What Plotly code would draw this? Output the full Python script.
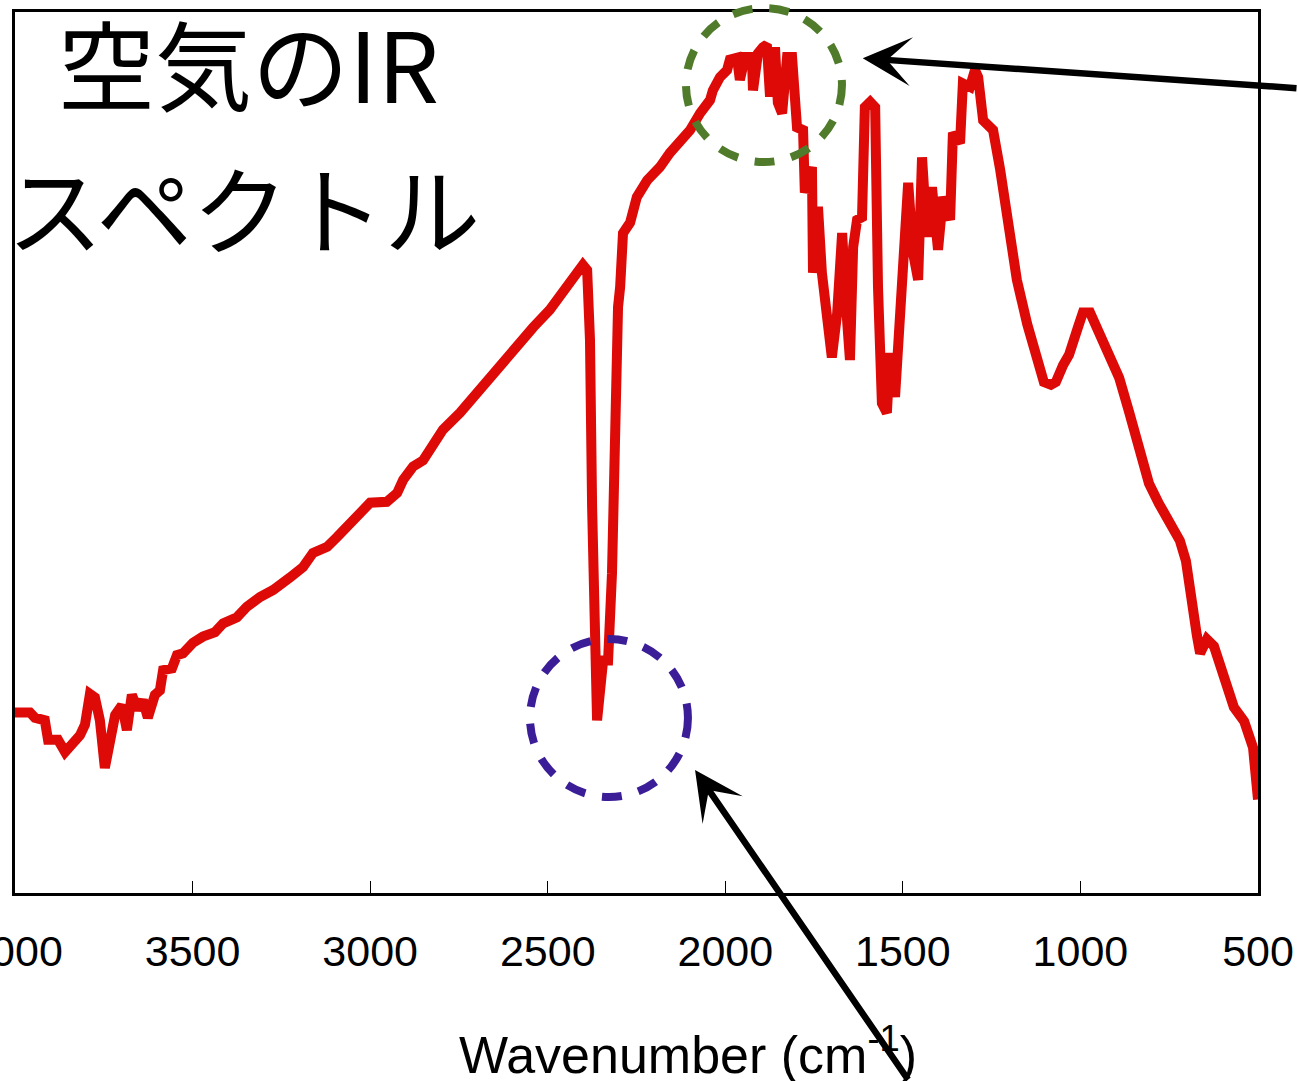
import plotly.graph_objects as go

# Wavenumber (cm-1) and transmittance-like signal (arbitrary %)
wavenumber = [
    4000, 3958, 3944, 3916, 3907, 3879, 3859, 3837, 3817, 3803, 3789, 3775, 3761, 3747, 3733,
    3718, 3699, 3685, 3671, 3654, 3640, 3626, 3606, 3592, 3583, 3558, 3544, 3527, 3499, 3471,
    3437, 3414, 3375, 3347, 3310, 3273, 3226, 3189, 3161, 3121, 3093, 3057, 3020, 3000, 2953,
    2924, 2907, 2879, 2851, 2823, 2795, 2747, 2710, 2671, 2634, 2586, 2541, 2494, 2446, 2401,
    2389, 2381, 2375, 2367, 2361, 2344, 2330, 2319, 2311, 2302, 2296, 2288, 2268, 2249, 2220,
    2184, 2156, 2128, 2099, 2071, 2043, 2035, 2015, 1995, 1987, 1967, 1959, 1944, 1925, 1922,
    1908, 1894, 1883, 1874, 1860, 1852, 1840, 1826, 1812, 1798, 1781, 1776, 1756, 1753, 1739,
    1728, 1714, 1700, 1685, 1671, 1657, 1649, 1640, 1629, 1615, 1607, 1592, 1578, 1570, 1559,
    1545, 1536, 1522, 1514, 1500, 1485, 1471, 1457, 1446, 1432, 1418, 1401, 1387, 1367, 1359,
    1339, 1331, 1311, 1297, 1288, 1274, 1246, 1226, 1204, 1179, 1150, 1125, 1103, 1083, 1069,
    1049, 1032, 1007, 993, 973, 950, 922, 891, 863, 835, 807, 779, 748, 720, 703,
    689, 672, 663, 644, 624, 596, 568, 539, 514, 500,
]
signal = [
    20.5, 20.5, 19.9, 19.6, 17.4, 17.4, 16.0, 16.8, 17.9, 19.1, 22.6, 22.2, 19.6, 14.2, 16.8,
    20.2, 21.3, 18.5, 22.5, 20.8, 21.9, 19.9, 22.5, 23.0, 25.3, 25.5, 27.0, 27.2, 28.4, 29.1,
    29.6, 30.6, 31.3, 32.5, 33.6, 34.4, 35.8, 37.0, 38.6, 39.3, 40.4, 42.0, 43.5, 44.3, 44.4,
    45.4, 46.9, 48.4, 49.1, 51.1, 52.6, 54.5, 56.3, 58.2, 59.7, 62.0, 64.2, 66.2, 68.8, 71.3,
    70.7, 62.8, 43.8, 28.7, 19.6, 26.4, 26.4, 36.3, 55.2, 66.5, 68.8, 74.9, 76.1, 79.0, 80.9,
    82.4, 84.0, 85.1, 86.6, 88.5, 90.0, 91.1, 92.6, 93.4, 94.6, 94.8, 92.3, 94.9, 94.9, 91.1,
    95.3, 96.0, 96.3, 90.4, 96.0, 89.7, 88.5, 94.9, 94.9, 86.9, 86.6, 79.5, 82.4, 70.4, 77.9,
    70.4, 65.0, 60.8, 65.8, 74.9, 65.0, 60.5, 73.3, 76.4, 76.7, 89.2, 89.8, 89.2, 68.8, 55.6,
    54.5, 61.3, 56.3, 61.3, 68.8, 80.6, 72.6, 69.6, 83.5, 74.5, 80.1, 73.0, 79.0, 76.4, 86.3,
    85.1, 91.9, 91.5, 93.4, 92.6, 87.7, 86.6, 82.1, 76.4, 69.6, 64.6, 60.7, 58.0, 57.7, 58.0,
    59.9, 61.1, 64.2, 65.9, 65.9, 63.8, 61.3, 58.5, 54.6, 50.7, 46.5, 44.2, 41.9, 40.0, 37.7,
    33.0, 29.2, 27.2, 28.8, 28.0, 24.2, 21.1, 19.5, 16.5, 10.6,
]
tick_values = [4000, 3500, 3000, 2500, 2000, 1500, 1000, 500]
tick_labels = ["4000", "3500", "3000", "2500", "2000", "1500", "1000", "500"]
title_line1 = "空気のIR"
title_line2 = "スペクトル"
x_title = "Wavenumber (cm<sup>-1</sup>)"

fig = go.Figure()
fig.add_trace(go.Scatter(
    x=wavenumber, y=signal, mode="lines",
    line=dict(color="#DD0A08", width=10),
    showlegend=False, hoverinfo="skip",
))

fig.update_layout(
    width=1298, height=1081, autosize=False,
    margin=dict(l=15, r=40, t=12, b=188, autoexpand=False),
    paper_bgcolor="white", plot_bgcolor="white",
    showlegend=False,
)
fig.update_xaxes(
    range=[4000, 500], showgrid=False, zeroline=False, automargin=False,
    showline=True, linecolor="black", linewidth=3, mirror=True,
    ticks="inside", ticklen=12, tickwidth=1.2, tickcolor="black",
    tickvals=tick_values, ticktext=tick_labels,
    tickfont=dict(family="Liberation Sans, Arial, sans-serif", size=43, color="black"),
    ticklabelstandoff=18, ticklabeloverflow="allow",
)
fig.update_yaxes(
    range=[0, 100], showgrid=False, zeroline=False, automargin=False,
    showline=True, linecolor="black", linewidth=3, mirror=True,
    ticks="", showticklabels=False,
)

jp_font = "Noto Sans CJK JP, sans-serif"
fig.add_annotation(xref="paper", yref="paper", x=0.033, y=0.9445,
                   xanchor="left", yanchor="middle", showarrow=False,
                   text=title_line1, font=dict(family=jp_font, size=97, color="black"))
fig.add_annotation(xref="paper", yref="paper", x=-0.008, y=0.780,
                   xanchor="left", yanchor="middle", showarrow=False,
                   text=title_line2, font=dict(family=jp_font, size=96, color="black"))
fig.add_annotation(xref="paper", yref="paper", x=0.5414, y=-0.1795,
                   xanchor="center", yanchor="middle", showarrow=False,
                   text=x_title, font=dict(family="Liberation Sans, Arial, sans-serif", size=52, color="black"))

# dashed circles
fig.add_shape(type="circle", xref="paper", yref="paper",
              x0=0.5398, x1=0.6653, y0=0.8297, y1=1.0045,
              line=dict(color="#4F7B2A", width=8, dash="20px,17px"), layer="above")
fig.add_shape(type="circle", xref="paper", yref="paper",
              x0=0.4143, x1=0.5414, y0=0.1090, y1=0.2883,
              line=dict(color="#3A1D97", width=8, dash="20px,17px"), layer="above")

# arrows (tail offsets in pixels from the tip)
fig.add_annotation(xref="paper", yref="paper", axref="pixel", ayref="pixel",
                   x=0.682, y=0.9475, ax=467, ay=30, text="",
                   showarrow=True, arrowhead=3, arrowsize=1.25, arrowwidth=6.5, arrowcolor="black")
fig.add_annotation(xref="paper", yref="paper", axref="pixel", ayref="pixel",
                   x=0.5471, y=0.1396, ax=214, ay=320, text="",
                   showarrow=True, arrowhead=3, arrowsize=1.25, arrowwidth=6.5, arrowcolor="black")

fig.write_html("out.html")
